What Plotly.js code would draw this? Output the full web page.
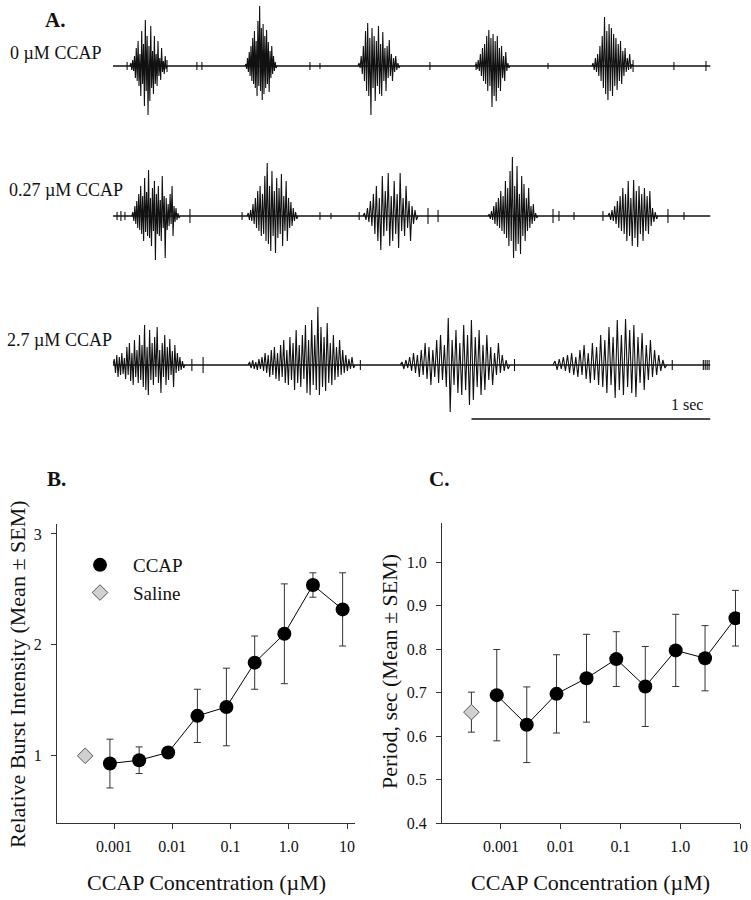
<!DOCTYPE html>
<html><head><meta charset="utf-8">
<script src="https://cdn.plot.ly/plotly-3.0.1.min.js"></script>
<style>html,body{margin:0;padding:0;background:#fff}#plot{width:751px;height:900px}</style>
</head><body><div id="plot"></div>
<script>
// ---------- Panel B / C data ----------
const conc = [0.00085, 0.0027, 0.0085, 0.027, 0.085, 0.26, 0.84, 2.6, 8.4];
const burstIntensity = [0.93, 0.96, 1.03, 1.36, 1.44, 1.84, 2.10, 2.54, 2.32];
const burstIntensitySem = [0.22, 0.12, 0.03, 0.24, 0.35, 0.24, 0.45, 0.11, 0.33];
const period = [0.694, 0.626, 0.697, 0.733, 0.777, 0.714, 0.797, 0.779, 0.871];
const periodSem = [0.105, 0.087, 0.090, 0.101, 0.063, 0.092, 0.083, 0.075, 0.064];
const salineConc = [0.00032];
const salineIntensity = [1.0];
const salineIntensitySem = [0];
const salinePeriod = [0.655];
const salinePeriodSem = [0.046];
const concTickVals = [0.0001, 0.001, 0.01, 0.1, 1, 10];
const concTickText = ['', '0.001', '0.01', '0.1', '1.0', '10'];
const intensityTicks = [1, 2, 3];
const periodTicks = [0.4, 0.5, 0.6, 0.7, 0.8, 0.9, 1.0];

// ---------- Panel A data (time in s, amplitude in arbitrary units) ----------
const traceLabels = ['0 µM CCAP', '0.27 µM CCAP', '2.7 µM CCAP'];
const recordLength = [0, 2.5];
const scaleBarTime = [1.5, 2.5];

const ctrlOn  = [0.071, 0.552, 1.025, 1.515, 2.004];
const ctrlOff = [0.226, 0.686, 1.201, 1.661, 2.176];
const ctrlB1 = [3,-4,6,-5,10,-12,18,-15,25,-20,12,-30,35,-18,22,-40,46,-25,30,-49,20,-35,40,-22,15,-28,30,-18,12,-20,25,-10,8,-14,18,-6,5,-8,10,-3];
const ctrlB2 = [2,-3,8,-6,14,-10,20,-15,28,-18,35,-22,25,-30,45,-20,61,-25,38,-34,42,-28,30,-22,36,-18,24,-26,15,-12,20,-8,10,-5,4,-2];
const ctrlB3 = [3,-2,10,-8,20,-15,35,-25,43,-30,28,-49,38,-22,30,-35,25,-20,40,-28,22,-30,34,-15,18,-25,20,-12,26,-10,12,-15,8,-6,10,-4,3,-2];
const ctrlB4 = [2,-3,6,-5,12,-10,18,-15,22,-18,30,-25,36,-20,28,-41,32,-30,25,-35,30,-22,18,-25,20,-12,10,-15,14,-5,3,-2];
const ctrlB5 = [3,-4,8,-6,12,-10,20,-15,30,-22,49,-28,35,-34,42,-25,38,-30,32,-20,28,-24,22,-15,25,-18,15,-10,18,-6,8,-4,12,-3,2];
const ctrlSpikeT = [0.059, 0.226, 0.351, 0.372, 0.824, 0.866, 1.326, 1.519, 1.82, 2.176, 2.347, 2.481];
const ctrlSpikeA = [4, 6, 4, 4, 4, 3, 4, 4, 3, 6, 4, 5];

const lowOn  = [0.079, 0.561, 1.046, 1.569, 2.071];
const lowOff = [0.280, 0.774, 1.276, 1.778, 2.280];
const lowB1 = [4,-5,10,-8,15,-12,22,-14,30,-18,20,-25,38,-16,24,-20,46,-22,18,-30,28,-15,35,-44,22,-18,30,-20,16,-25,40,-12,20,-42,18,-14,12,-10,22,-8,30,-20,10,-6,8,-4,3,-2];
const lowB2 = [3,-4,6,-5,12,-8,18,-12,25,-15,30,-20,22,-18,40,-25,53,-28,30,-35,45,-20,25,-37,38,-22,28,-18,42,-30,20,-15,35,-25,18,-12,14,-10,8,-5,4,-3];
const lowB3 = [3,-4,8,-6,15,-10,22,-18,30,-25,18,-34,40,-20,25,-15,43,-30,20,-25,35,-18,22,-32,43,-15,18,-20,30,-12,15,-25,10,-8,6,-4];
const lowB4 = [2,-3,5,-4,10,-8,14,-10,18,-12,25,-15,20,-18,35,-22,28,-30,45,-25,59,-42,30,-35,50,-28,22,-38,40,-20,32,-25,18,-15,28,-12,10,-8,12,-5,3,-2];
const lowB5 = [3,-4,6,-5,10,-8,15,-12,20,-15,28,-18,22,-25,35,-20,18,-30,36,-22,25,-31,30,-18,22,-25,28,-15,20,-18,25,-10,8,-6,4,-3];
const lowSpikeT = [0.017, 0.033, 0.050, 0.322, 0.540, 0.866, 0.912, 1.030, 1.318, 1.360, 1.841, 1.866, 1.929, 2.050, 2.322, 2.389];
const lowSpikeA = [4, 5, 4, 7, 4, 4, 3, 4, 8, 6, 7, 5, 4, 5, 7, 4];

const highOn  = [0.000, 0.565, 1.201, 1.841];
const highOff = [0.301, 1.013, 1.661, 2.318];
const highB1 = [6,-8,10,-12,8,-10,12,-9,7,-14,18,-10,22,-16,12,-20,25,-12,15,-18,30,-15,20,-22,40,-25,18,-30,35,-15,22,-20,28,-12,38,-18,15,-28,22,-12,30,-20,18,-15,26,-10,14,-22,20,-8,12,-6,8,-5,4,-3];
const highB2 = [3,-3,5,-4,3,-5,6,-4,8,-6,12,-8,10,-12,15,-10,18,-14,12,-16,20,-12,25,-18,15,-20,28,-15,22,-25,35,-18,20,-22,30,-14,40,-28,25,-30,45,-20,30,-25,58,-30,38,-22,28,-26,42,-18,22,-20,30,-15,18,-12,25,-10,15,-8,10,-6,6,-4,8,-3];
const highB3 = [3,-4,5,-3,8,-6,12,-8,10,-12,15,-10,22,-14,18,-20,15,-12,25,-18,30,-15,20,-22,47,-47,25,-20,35,-28,22,-30,40,-25,30,-40,45,-35,28,-22,35,-30,20,-25,30,-15,18,-20,12,-10,22,-8,10,-6,5,-4];
const highB4 = [4,-5,6,-4,8,-6,10,-8,12,-10,8,-12,15,-10,20,-14,12,-18,22,-15,18,-20,30,-22,25,-28,38,-20,28,-33,45,-25,30,-30,46,-22,35,-28,40,-32,28,-18,32,-25,20,-15,25,-12,15,-10,10,-6,5,-3];
const highSpikeT = [0.330, 0.377, 1.035, 1.680, 2.340, 2.470, 2.478, 2.486, 2.494];
const highSpikeA = [6, 8, 5, 6, 5, 5, 5, 5, 5];

// ---------- helpers ----------
function recording(on, off, bursts, spikeT, spikeA) {
  const x = [], y = [];
  bursts.forEach((s, k) => {
    const n = s.length;
    x.push(on[k]); y.push(0);
    s.forEach((v, i) => { x.push(on[k] + (off[k] - on[k]) * (i + 1) / (n + 1)); y.push(v); });
    x.push(off[k]); y.push(0);
    x.push(null); y.push(null);
  });
  spikeT.forEach((t, i) => { x.push(t, t, null); y.push(spikeA[i], -spikeA[i], null); });
  return {x, y};
}
const W = 751, H = 900;
const px = v => v / W, py = v => 1 - v / H;
const serif = 'Liberation Serif, Times New Roman, serif';

const rows = [
  {rec: recording(ctrlOn, ctrlOff, [ctrlB1, ctrlB2, ctrlB3, ctrlB4, ctrlB5], ctrlSpikeT, ctrlSpikeA), ax: 'y3'},
  {rec: recording(lowOn, lowOff, [lowB1, lowB2, lowB3, lowB4, lowB5], lowSpikeT, lowSpikeA), ax: 'y4'},
  {rec: recording(highOn, highOff, [highB1, highB2, highB3, highB4], highSpikeT, highSpikeA), ax: 'y5'}
];

const data = [];
rows.forEach(r => {
  data.push({x: recordLength, y: [0, 0], xaxis: 'x3', yaxis: r.ax, mode: 'lines',
    line: {color: '#111', width: 1.4}, showlegend: false, hoverinfo: 'skip'});
  data.push({x: r.rec.x, y: r.rec.y, xaxis: 'x3', yaxis: r.ax, mode: 'lines',
    line: {color: '#111', width: 1.1}, showlegend: false, connectgaps: false, hoverinfo: 'skip'});
});
data.push({x: scaleBarTime, y: [-54, -54], xaxis: 'x3', yaxis: 'y5', mode: 'lines',
  line: {color: '#111', width: 1.3}, showlegend: false, hoverinfo: 'skip'});

const errStyle = {type: 'data', visible: true, color: '#333', thickness: 1, width: 3.5};
const ccapMarker = {color: '#000', size: 14, symbol: 'circle'};
const salineMarker = {color: '#d0d0d0', size: 12, symbol: 'diamond', line: {color: '#555', width: 1}};
// Panel B
data.push({x: conc, y: burstIntensity, xaxis: 'x', yaxis: 'y', mode: 'lines', showlegend: false,
  line: {color: '#000', width: 1}, hoverinfo: 'skip'});
data.push({x: conc, y: burstIntensity, error_y: Object.assign({array: burstIntensitySem}, errStyle),
  xaxis: 'x', yaxis: 'y', mode: 'markers', name: 'CCAP', marker: ccapMarker});
data.push({x: salineConc, y: salineIntensity, error_y: Object.assign({array: salineIntensitySem}, errStyle),
  xaxis: 'x', yaxis: 'y', mode: 'markers', name: 'Saline', marker: salineMarker});
// Panel C
data.push({x: conc, y: period, xaxis: 'x2', yaxis: 'y2', mode: 'lines', showlegend: false,
  line: {color: '#000', width: 1}, hoverinfo: 'skip'});
data.push({x: conc, y: period, error_y: Object.assign({array: periodSem}, errStyle),
  xaxis: 'x2', yaxis: 'y2', mode: 'markers', name: 'CCAP', showlegend: false, marker: ccapMarker});
data.push({x: salineConc, y: salinePeriod, error_y: Object.assign({array: salinePeriodSem}, errStyle),
  xaxis: 'x2', yaxis: 'y2', mode: 'markers', name: 'Saline', showlegend: false, marker: salineMarker});

const axBase = {showgrid: false, zeroline: false, showline: true, linecolor: '#333', linewidth: 1,
  ticks: 'outside', ticklen: 5, tickcolor: '#333', tickfont: {family: serif, size: 16, color: '#111'}};
const hidden = {visible: false, showgrid: false, zeroline: false};

const layout = {
  width: W, height: H, margin: {l: 0, r: 0, t: 0, b: 0},
  paper_bgcolor: '#fff', plot_bgcolor: 'rgba(0,0,0,0)',
  font: {family: serif, color: '#111'},
  xaxis: Object.assign({}, axBase, {type: 'log', domain: [px(57), px(355)], range: [-3.979, 1.137],
    tickvals: concTickVals, ticktext: concTickText, anchor: 'y', ticklabelstandoff: 4}),
  yaxis: Object.assign({}, axBase, {domain: [py(823), py(524)], range: [0.394, 3.09],
    tickvals: intensityTicks, anchor: 'x', ticklabelstandoff: 6}),
  xaxis2: Object.assign({}, axBase, {type: 'log', domain: [px(442), px(740)], range: [-3.987, 1.0],
    tickvals: concTickVals, ticktext: concTickText, anchor: 'y2', ticklabelstandoff: 4}),
  yaxis2: Object.assign({}, axBase, {domain: [py(823), py(523)], range: [0.4, 1.09],
    tickvals: periodTicks, tickformat: '.1f', anchor: 'x2', ticklabelstandoff: 6}),
  xaxis3: Object.assign({}, hidden, {domain: [px(113), px(710.5)], range: [0, 2.5], anchor: 'y5'}),
  yaxis3: Object.assign({}, hidden, {domain: [py(126), py(6)], range: [-60, 60], anchor: 'x3'}),
  yaxis4: Object.assign({}, hidden, {domain: [py(276), py(156)], range: [-60, 60], anchor: 'x3'}),
  yaxis5: Object.assign({}, hidden, {domain: [py(425), py(305)], range: [-60, 60], anchor: 'x3'}),
  showlegend: true,
  legend: {x: px(67), y: py(546), xanchor: 'left', yanchor: 'top', bgcolor: 'rgba(0,0,0,0)',
    font: {family: serif, size: 19, color: '#111'}, itemwidth: 56, tracegroupgap: 0},
  annotations: [
    {text: '<b>A.</b>', x: px(55), y: py(20)},
    {text: '<b>B.</b>', x: px(56), y: py(479)},
    {text: '<b>C.</b>', x: px(439), y: py(479)},
  ].map(a => Object.assign({xref: 'paper', yref: 'paper', showarrow: false, xanchor: 'center', yanchor: 'middle',
      font: {family: serif, size: 21, color: '#111'}}, a))
  .concat([
    {text: traceLabels[0], x: px(8), y: py(53)},
    {text: traceLabels[1], x: px(7), y: py(190)},
    {text: traceLabels[2], x: px(5), y: py(340)},
  ].map(a => Object.assign({xref: 'paper', yref: 'paper', showarrow: false, xanchor: 'left', yanchor: 'middle',
      font: {family: serif, size: 18, color: '#111'}}, a)))
  .concat([
    {text: '1 sec', x: px(687), y: py(405), font: {family: serif, size: 16, color: '#111'}},
    {text: 'CCAP Concentration (µM)', x: px(206), y: py(882), font: {family: serif, size: 22, color: '#111'}},
    {text: 'CCAP Concentration (µM)', x: px(590), y: py(882), font: {family: serif, size: 22, color: '#111'}},
    {text: 'Relative Burst Intensity (Mean ± SEM)', x: px(17), y: py(674), textangle: -90, font: {family: serif, size: 22, color: '#111'}},
    {text: 'Period, sec (Mean ± SEM)', x: px(389), y: py(672), textangle: -90, font: {family: serif, size: 22, color: '#111'}},
  ].map(a => Object.assign({xref: 'paper', yref: 'paper', showarrow: false, xanchor: 'center', yanchor: 'middle'}, a)))
};

Plotly.newPlot('plot', data, layout, {staticPlot: true, displayModeBar: false});
</script>
</body></html>
